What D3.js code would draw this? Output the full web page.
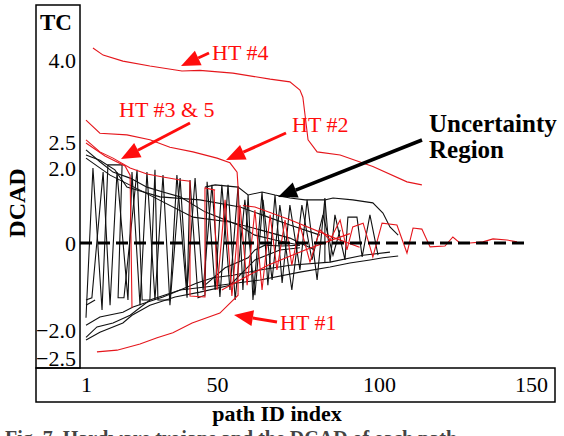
<!DOCTYPE html>
<html>
<head>
<meta charset="utf-8">
<script src="https://cdn.jsdelivr.net/npm/d3@7"></script>
<style>
  body { margin: 0; background: #fff; }
  svg { display: block; font-family: "Liberation Serif", "Times New Roman", serif; }
</style>
</head>
<body>
<div id="chart"></div>
<script>
// tick labels of the two axes
const yTicks = [-2.5, -2.0, 0, 2.0, 2.5, 4.0];
const xTicks = [1, 50, 100, 150];

// hardware trojan paths (red), [path index, DCAD]
const ht4 = [[3.6,4.22],[7.4,4.09],[14.8,3.98],[24.9,3.89],[36.9,3.80],[43.6,3.81],[54.9,3.76],[66.4,3.65],[72.5,3.60],[75.6,3.45],[76.5,3.32],[78.1,2.54],[80.9,2.31],[88,2.25],[98.1,2.03],[109.2,1.63],[114.1,1.55]];
const ht2 = [[1,2.90],[6.2,2.66],[16.3,2.63],[24.9,2.54],[32.4,2.40],[41,2.31],[50,2.19],[54,2.10],[56.2,1.89],[56.5,1.49],[56.5,-1.13]];
const ht1 = [[5.1,-2.39],[12.6,-2.36],[21.2,-2.25],[27.6,-2.14],[33.5,-2.05],[40.7,-1.84],[50.9,-1.61],[56.5,-1.20],[56.5,-1.13]];
const ht35a = [[1,2.54],[6.2,2.31],[11.1,2.19],[17.5,2.0],[23.8,1.84],[29.8,1.76],[36.2,1.68],[39.9,1.65],[39.9,-1.22],[45.5,-1.24],[45.5,1.47],[49.3,1.41]];
const ht35b = [[1,2.48],[8.1,2.23],[15.6,2.04],[17.5,1.81],[18.2,-1.49]];
const redZig = [[48.9,1.41],[50,-1.08],[52.5,1.15],[54.6,-1.22],[57.1,1.01],[59.3,-0.97],[61.7,0.88],[63.9,-1.08],[66.4,0.75],[68.5,-0.62],[71,0.61],[73.1,-0.51],[75.6,0.48],[78.7,-0.44],[81.8,0.35],[84.9,0.08],[88,0.61],[90.1,-0.16],[91.9,0.43],[95.1,0.53],[98.1,-0.32],[101,0.53],[105.9,0.48],[109.2,-0.23],[111.2,0.40],[114.1,0.37],[116.8,-0.09],[121.7,-0.07],[124.3,0.16],[126.6,0],[129.9,0],[134.2,0.03],[137.5,0.11],[142.1,0.08],[145.4,0.03]];
const redSlantA = [[51.5,-1.08],[57.1,-0.85],[65.7,-0.51],[77.2,-0.16],[86.4,0.11],[91,0.25]];
const redSlantB = [[58,1.0],[61.7,0.96],[72.5,0.62],[86.4,0.13],[94,-0.1]];

// normal paths (black)
const zigA = [[1,-1.72],[3.6,2.0],[7,-1.54],[9.2,2.06],[14.5,2.06],[13,-1.26],[15.2,-1.26],[20.1,1.95],[22,-1.31],[24.9,-1.31],[26.8,1.95],[27.9,-1.31],[32.4,-1.31],[35,1.81],[38.8,-1.26],[39.9,1.68],[42.9,-1.26],[45.5,-1.20],[46.3,1.63],[49.3,-1.08],[51.5,1.55],[54,-1.08],[56.5,1.52],[58,-1.08],[59.6,1.28],[61.1,-1.31],[63.9,1.36],[65.7,-0.97],[67.9,1.28],[70.1,-0.92],[72.5,1.01],[75.6,-0.62],[77.8,1.15],[80.9,-0.85],[83.3,1.20],[84.9,-0.44],[86.4,0.75],[89.5,-0.39],[90.4,0.69],[93.2,0.69],[94.8,-0.32],[97.2,0.75],[99.7,-0.28]];
const zigB = [[1,-1.31],[3.2,-1.26],[7.4,1.89],[10,-1.43],[12.6,1.89],[16.7,-1.31],[18.2,1.89],[21.2,-1.43],[23.8,1.89],[26.8,-1.31],[29.8,1.81],[32.4,-1.43],[36.2,1.73],[38.8,-1.08],[41.8,1.73],[44.8,-1.08],[48.1,1.55],[50.9,-1.24],[53.4,1.55],[55.6,-1.31],[58.6,1.15],[61.7,-1.20],[64.2,1.15],[67,-0.85],[69.4,1.01],[73.1,-1.08],[76.2,1.01],[79.3,-0.39],[82.7,0.75],[85.8,-0.28],[88,0.35]];
const top1 = [[1,2.35],[6.2,2.12],[11.1,1.89],[17.5,1.73],[23.8,1.49],[29.8,1.36],[36.2,1.23],[45.5,0.83],[56.5,0.48],[61.7,0.21],[67.9,0.08],[75.6,-0.05]];
const top2 = [[1,2.25],[6.2,2.15],[11.8,1.95],[16.3,1.49],[28.7,1.23],[43.6,1.15],[57.1,0.96],[63.9,0.75],[72.5,0.48],[81.8,0.21]];
const top3 = [[1,2.19],[10,1.81],[21.2,1.41],[41,0.69],[54,0.56],[63.3,0.35],[72.5,0.13],[80.2,-0.16]];
const top4 = [[83.3,-0.44],[83.3,1.15],[85.8,1.20],[91.9,1.15],[98.1,1.07],[101.3,0.80],[103.6,0.43],[106.3,0.21]];
const top5 = [[45.5,1.49],[49.3,1.55],[56.5,1.49],[59.6,1.28],[63.9,1.36],[67.9,1.28],[72.5,1.20],[77.2,1.15],[83.3,1.15]];
const bot1 = [[1,-1.89],[6.2,-1.70],[14.8,-1.59],[18.6,-1.47],[23.8,-1.36],[29.8,-1.24],[36.2,-1.08],[42.5,-0.92],[48.5,-0.80],[54.9,-0.74],[63.3,-0.62],[72.5,-0.51],[84.9,-0.44],[95.1,-0.28],[103.6,-0.21]];
const bot2 = [[1,-2.13],[5.1,-1.93],[11.1,-1.84],[17.5,-1.66],[24.9,-1.31],[36.2,-1.08],[50.9,-0.97],[63.3,-0.85],[75.6,-0.67],[84.9,-0.55],[91,-0.46],[97.2,-0.39],[101.3,-0.34],[106.3,-0.30]];
const bot3 = [[1,-2.18],[6.2,-2.04],[14.8,-1.84],[18.2,-1.66],[24.9,-1.43],[34.3,-1.24],[43.6,-1.13],[54,-0.97],[61.7,-0.39],[69.4,-0.16],[75.6,-0.11]];
const bot4 = [[1,-1.43],[4.4,-1.31]];
const bot5 = [[45.5,-0.97],[52.5,-0.57],[59.6,-0.34],[61.7,-0.16],[64.8,-0.05],[70.1,-0.07],[75.6,-0.05]];

const blackSeries = [zigA, zigB, top1, top2, top3, top4, top5, bot1, bot2, bot3, bot4, bot5];
const redSeries = [redSlantA, redSlantB, redZig, ht35a, ht35b, ht1, ht2, ht4];
const zeroEnd = 149;

const W = 564, H = 436;
const red = "#e5161c", redText = "#ff0d0d";

const svg = d3.select("#chart").append("svg")
    .attr("width", W)
    .attr("height", H);

// the axis labels are not evenly spaced in the original, so use piecewise scales
const x = d3.scaleLinear().domain([1, 50, 100, 150]).range([86, 217, 379, 531]);
const y = d3.scaleLinear().domain([-2.5, -2, 0, 2, 2.5, 4]).range([358, 330, 243, 168, 142, 60]);

// frames round the axis labels
svg.append("rect").attr("x", 36).attr("y", 5).attr("width", 44).attr("height", 363)
    .attr("fill", "none").attr("stroke", "#000").attr("stroke-width", 1.5);
svg.append("rect").attr("x", 36).attr("y", 368).attr("width", 519).attr("height", 34)
    .attr("fill", "none").attr("stroke", "#000").attr("stroke-width", 1.5);

const line = d3.line().x(d => x(d[0])).y(d => y(d[1]));

svg.append("g").selectAll("path")
    .data(blackSeries)
    .enter().append("path")
    .attr("d", line)
    .attr("fill", "none")
    .attr("stroke", "#111")
    .attr("stroke-width", 1.1);

svg.append("g").selectAll("path")
    .data(redSeries)
    .enter().append("path")
    .attr("d", line)
    .attr("fill", "none")
    .attr("stroke", red)
    .attr("stroke-width", 1.1);

// zero line
svg.append("line")
    .attr("x1", 80).attr("x2", x(zeroEnd))
    .attr("y1", y(0)).attr("y2", y(0))
    .attr("stroke", "#000")
    .attr("stroke-width", 3.2)
    .attr("stroke-dasharray", "12,6");

// axes
const yAxis = svg.append("g")
    .attr("transform", "translate(76,0)")
    .call(d3.axisLeft(y).tickValues(yTicks).tickSize(0).tickPadding(0)
        .tickFormat(d => d === 0 ? "0" : d3.format(".1f")(d)));
yAxis.select(".domain").remove();
yAxis.selectAll("text").style("font-size", "22px").style("font-family", "Liberation Serif").attr("fill", "#000");

const xAxis = svg.append("g")
    .attr("transform", "translate(0,368)")
    .call(d3.axisBottom(x).tickValues(xTicks).tickSize(0).tickPadding(8));
xAxis.select(".domain").remove();
xAxis.selectAll("text").style("font-size", "22px").style("font-family", "Liberation Serif").attr("fill", "#000");

svg.append("text")
    .attr("x", 40).attr("y", 30)
    .style("font-size", "23px").style("font-weight", "bold")
    .text("TC");

svg.append("text")
    .attr("transform", "translate(25,203) rotate(-90)")
    .style("text-anchor", "middle")
    .style("font-size", "24px").style("font-weight", "bold")
    .text("DCAD");

svg.append("text")
    .attr("x", 277).attr("y", 421)
    .style("text-anchor", "middle")
    .style("font-size", "22px").style("font-weight", "bold")
    .text("path ID index");

svg.append("text")
    .attr("x", 5).attr("y", 445)
    .style("font-size", "20px").style("font-weight", "bold")
    .attr("fill", "#444")
    .text("Fig. 7. Hardware trojans and the DCAD of each path");

// annotations: label, arrow tail and tip
function arrow(x1, y1, x2, y2, color, w) {
    const a = Math.atan2(y2 - y1, x2 - x1);
    const len = 19, half = 8;
    const bx = x2 - len * Math.cos(a), by = y2 - len * Math.sin(a);
    svg.append("line")
        .attr("x1", x1).attr("y1", y1).attr("x2", bx).attr("y2", by)
        .attr("stroke", color).attr("stroke-width", w);
    svg.append("polygon")
        .attr("points", [
            [x2, y2],
            [bx + half * Math.sin(a), by - half * Math.cos(a)],
            [bx - half * Math.sin(a), by + half * Math.cos(a)]
        ].map(p => p.join(",")).join(" "))
        .attr("fill", color);
}

const notes = [
    { t: "HT #4", x: 212, y: 60, ax: [209, 53, 181, 66] },
    { t: "HT #3 & 5", x: 119, y: 117, ax: [190, 123, 121, 159] },
    { t: "HT #2", x: 292, y: 132, ax: [286, 133, 226, 160] },
    { t: "HT #1", x: 280, y: 330, ax: [277, 322, 234, 315] }
];
notes.forEach(n => {
    svg.append("text")
        .attr("x", n.x).attr("y", n.y)
        .attr("fill", redText)
        .style("font-size", "22px")
        .text(n.t);
    arrow(n.ax[0], n.ax[1], n.ax[2], n.ax[3], redText, 3);
});

svg.append("text")
    .attr("x", 429).attr("y", 132)
    .style("font-size", "25px").style("font-weight", "bold")
    .text("Uncertainty");
svg.append("text")
    .attr("x", 429).attr("y", 158)
    .style("font-size", "25px").style("font-weight", "bold")
    .text("Region");
arrow(422, 140, 278, 197, "#000", 3.5);
</script>
</body>
</html>
